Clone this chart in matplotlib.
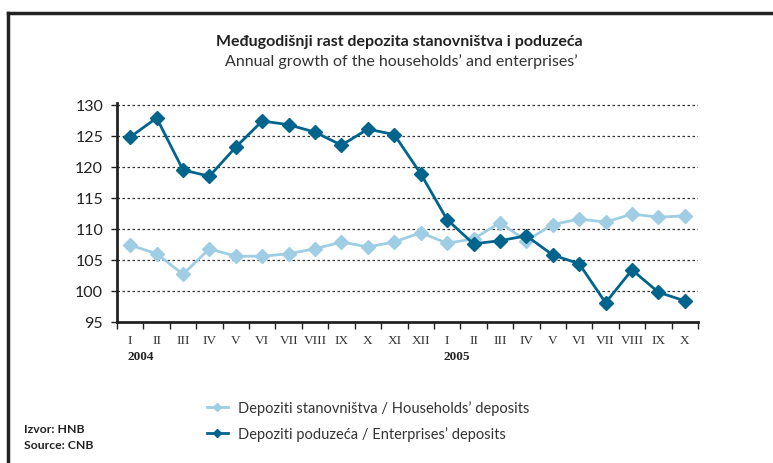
import matplotlib
matplotlib.use("Agg")
import matplotlib.pyplot as plt
from matplotlib.lines import Line2D

months = ['I', 'II', 'III', 'IV', 'V', 'VI', 'VII', 'VIII', 'IX', 'X', 'XI', 'XII',
          'I', 'II', 'III', 'IV', 'V', 'VI', 'VII', 'VIII', 'IX', 'X']
households = [107.4, 106.0, 102.7, 106.8, 105.6, 105.6, 106.0, 106.8, 107.9, 107.1, 107.9, 109.4,
              107.7, 108.4, 111.0, 108.1, 110.7, 111.6, 111.1, 112.4, 111.9, 112.1]
enterprises = [124.8, 127.9, 119.5, 118.5, 123.2, 127.4, 126.8, 125.6, 123.5, 126.1, 125.2, 118.9,
               111.5, 107.6, 108.1, 108.9, 105.8, 104.4, 98.1, 103.4, 99.8, 98.4]
years = ['2004', '2005']
yticks = [95, 100, 105, 110, 115, 120, 125, 130]

light = '#9fcde3'
dark = '#00648c'

fig = plt.figure(figsize=(7.73, 4.64), dpi=100)
ax = fig.add_axes([117 / 773, 1 - 323 / 464, (698 - 117) / 773, (323 - 104) / 464])

x = list(range(len(months)))
ax.plot(x, households, color=light, lw=2, marker='D', ms=7, mec=light,
        label='Depoziti stanovništva / Households’ deposits')
ax.plot(x, enterprises, color=dark, lw=2, marker='D', ms=7, mec=dark,
        label='Depoziti poduzeća / Enterprises’ deposits')

ax.set_xlim(-0.5, len(months) - 0.5)
ax.set_ylim(95, 130.3)
ax.set_yticks(yticks)
ax.set_yticklabels([str(v) for v in yticks], fontsize=11.5, color='#222222', family='Lato')
for v in yticks[1:]:
    ax.axhline(v, color='#333333', lw=0.9, ls=(0, (2, 2)), zorder=0)

ax.set_xticks(x)
ax.set_xticklabels(months, fontsize=9.5, family='Liberation Serif', color='#333333')
ax.tick_params(axis='x', which='major', length=0, pad=9)
ax.set_xticks([i - 0.5 for i in range(len(months) + 1)], minor=True)
ax.tick_params(axis='x', which='minor', length=5, width=1, color='#222222', direction='out')
ax.tick_params(axis='y', length=4, width=1, color='#222222', pad=6)

for s in ['top', 'right']:
    ax.spines[s].set_visible(False)
ax.spines['left'].set_linewidth(2)
ax.spines['bottom'].set_linewidth(2)
ax.spines['left'].set_color('#222222')
ax.spines['bottom'].set_color('#222222')

fig.text(127 / 773, 1 - 357 / 464, years[0], fontsize=9.5, fontweight='bold',
         family='Liberation Serif', va='center', color='#222222')
fig.text(443 / 773, 1 - 357 / 464, years[1], fontsize=9.5, fontweight='bold',
         family='Liberation Serif', va='center', color='#222222')

fig.text(399 / 773, 1 - 42 / 464, 'Međugodišnji rast depozita stanovništva i poduzeća',
         ha='center', va='center', fontsize=11.5, fontweight='bold', family='Lato', color='#222222')
fig.text(401 / 773, 1 - 62 / 464, 'Annual growth of the households’ and enterprises’',
         ha='center', va='center', fontsize=11.5, family='Lato', color='#333333')

leg = fig.legend(loc='upper left', bbox_to_anchor=(194 / 773, 1 - 388 / 464), frameon=False,
                 prop={'family': 'Lato', 'size': 10.5}, handlelength=1.4, labelspacing=0.75,
                 handletextpad=0.7, markerscale=0.6)
for t in leg.get_texts():
    t.set_color('#333333')

fig.text(24 / 773, 1 - 430 / 464, 'Izvor: HNB', fontsize=8.8, fontweight='bold',
         family='Lato', va='center', color='#222222')
fig.text(24 / 773, 1 - 446 / 464, 'Source: CNB', fontsize=8.8, fontweight='bold',
         family='Lato', va='center', color='#222222')

fig.add_artist(Line2D([8 / 773, 1], [1 - 14 / 464, 1 - 14 / 464], color='#222222', lw=2.5,
                      transform=fig.transFigure))
fig.add_artist(Line2D([8 / 773, 8 / 773], [0, 1 - 14 / 464], color='#222222', lw=2.5,
                      transform=fig.transFigure))

fig.savefig('out.png', dpi=100)
